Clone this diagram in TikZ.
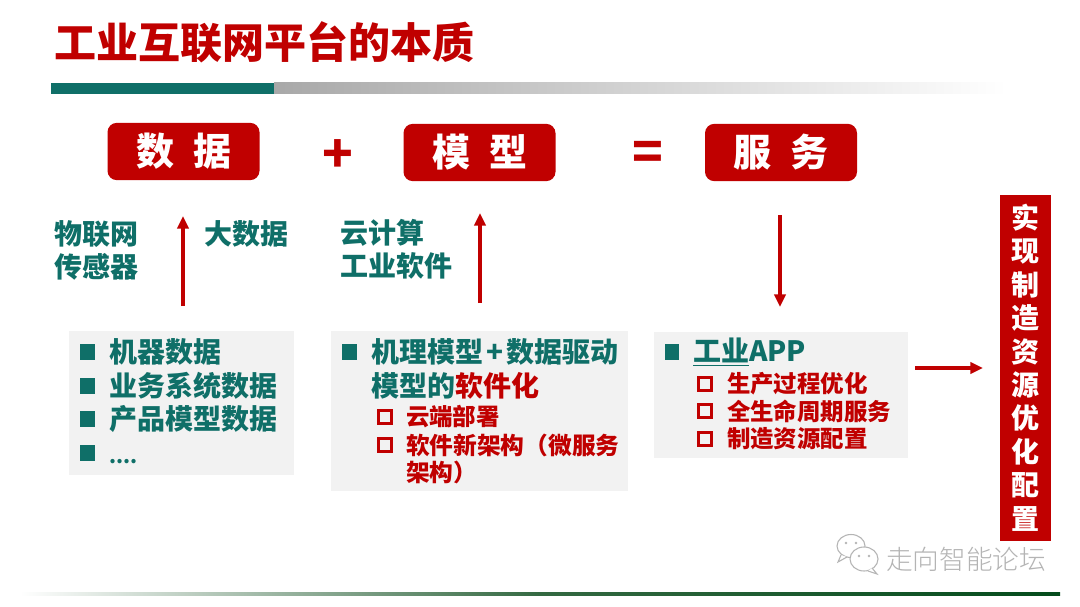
\documentclass[tikz,border=0pt]{standalone}
\usepackage{fontspec}
\setmainfont{Noto Sans CJK SC}
\newfontfamily\heavyfont{Noto Sans CJK SC Black}
\newfontfamily\wmfont{Noto Sans CJK SC Light}
\usetikzlibrary{arrows.meta}
\definecolor{myred}{HTML}{C00000}
\definecolor{myteal}{HTML}{0F6F68}
\definecolor{panelgray}{HTML}{F2F2F2}
\definecolor{wmgray}{HTML}{B4B4B4}
\newcommand{\fs}[1]{\fontsize{#1}{#1}\selectfont\heavyfont}
\tikzset{
  x=0.75pt,y=-0.75pt,
  txt/.style={inner sep=0pt,outer sep=0pt,anchor=west,align=left},
  titletxt/.style={txt,text=myred,font=\fs{31.5}},
  redbox/.style={fill=myred,rounded corners=7pt,inner sep=0pt,outer sep=0pt,minimum width=114pt,minimum height=43pt,text=white,font=\fs{28.5}},
  opsym/.style={inner sep=0pt,text=myred,font=\fs{38}},
  side/.style={txt,text=myteal,font={\fontsize{21}{24.75}\selectfont\heavyfont}},
  panel/.style={fill=panelgray,inner sep=0pt,outer sep=0pt,anchor=north west},
  lone/.style={txt,text=myteal,font={\fontsize{21}{25.2}\selectfont\heavyfont}},
  ltwo/.style={txt,text=myred,font={\fontsize{17.6}{20.6}\selectfont\heavyfont}},
  solidbul/.style={fill=myteal,inner sep=0pt,outer sep=0pt,minimum width=11pt,minimum height=12pt},
  hollowbul/.style={draw=myred,line width=2.6pt,inner sep=0pt,minimum width=9.5pt,minimum height=9.5pt},
  arr/.style={draw=myred,line width=2.5pt,-{Triangle[length=9.5pt,width=8.5pt]}},
  barbox/.style={fill=myred,inner sep=0pt,outer sep=0pt,anchor=north west,minimum width=38.25pt,minimum height=259.5pt},
  bartxt/.style={inner sep=0pt,text=white,font=\fs{21}},
  wm/.style={txt,text=wmgray,font={\fontsize{20}{20}\selectfont\wmfont}},
  wmline/.style={draw=wmgray,line width=0.8pt,fill=white}
}
\begin{document}
\begin{tikzpicture}
\useasboundingbox (0,0) rectangle (1080,606);
\fill[white] (0,0) rectangle (1080,606);
% title and rules
\node[titletxt] (title) at (54,42) {工业互联网平台的本质};
\fill[myteal] (51,83) rectangle (274,94);
\shade[left color=black!34,right color=white] (274,83) rectangle (1007,94);
\shade[left color=white,right color=white!55!myteal!70!green!50!black] (20,592) rectangle (540,595);
\shade[left color=white!55!myteal!70!green!50!black,right color=myteal!60!green!45!black] (540,592) rectangle (1060,595);
% top row
\node[redbox] (data) at (183.5,151.5) {\raisebox{-1pt}{数\hspace{.5em}据}};
\node[redbox] (model) at (479.5,152.5) {\raisebox{-1pt}{模\hspace{.5em}型}};
\node[redbox] (service) at (781,152.5) {\raisebox{-1pt}{服\hspace{.5em}务}};
\node[opsym] (plus) at (338,156) {+};
\node[opsym] (equal) at (648,156) {=};
% side labels
\node[side] (iot) at (54,250.5) {物联网\\传感器};
\node[side] (bigdata) at (204,234) {大数据};
\node[side] (cloud) at (340,249.5) {云计算\\工业软件};
% panels
\node[panel,minimum width=168.75pt,minimum height=108pt] (p1) at (69,331) {};
\node[panel,minimum width=222.75pt,minimum height=120pt] (p2) at (331,331) {};
\node[panel,minimum width=190.5pt,minimum height=94.5pt] (p3) at (654,332) {};
% panel 1
\node[solidbul] (b11) at (87.5,352) {};
\node[solidbul] (b12) at (87.5,386) {};
\node[solidbul] (b13) at (87.5,419) {};
\node[solidbul] (b14) at (87.5,453) {};
\node[lone] (t11) at (109,352) {机器数据};
\node[lone] (t12) at (109,386) {业务系统数据};
\node[lone] (t13) at (109,419) {产品模型数据};
\node[lone,font={\fontsize{15}{15}\selectfont\heavyfont}] (t14) at (109,462) {....};
% panel 2
\node[solidbul] (b21) at (349.5,352) {};
\node[lone] (t21) at (371,369) {机理模型\hspace{.12em}+\hspace{.12em}数据驱动\\模型的\textcolor{myred}{软件化}};
\node[hollowbul] (b22) at (385,417) {};
\node[hollowbul] (b23) at (385,445) {};
\node[ltwo] (t22) at (406,417) {云端部署};
\node[ltwo,font={\fontsize{17.8}{20.6}\selectfont\heavyfont}] (t23) at (406,459) {软件新架构（微服务\\架构）};
% panel 3
\node[solidbul] (b31) at (672,352) {};
\node[lone] (t31) at (693,352) {\underline{工业}APP};
\node[hollowbul] (b32) at (705,384) {};
\node[hollowbul] (b33) at (705,411) {};
\node[hollowbul] (b34) at (705,439) {};
\node[ltwo] (t32) at (727,384) {生产过程优化};
\node[ltwo] (t33) at (727,411) {全生命周期服务};
\node[ltwo] (t34) at (727,439) {制造资源配置};
% right bar
\node[barbox] (bar) at (1000,195) {};
\foreach \ch [count=\i from 0] in {实,现,制,造,资,源,优,化,配,置}
  \node[bartxt] (c\i) at (1025.5,{218+33.4*\i}) {\ch};
% arrows
\coordinate (a1s) at (183,306); \coordinate (a1e) at (183,216);
\coordinate (a2s) at (480,303); \coordinate (a2e) at (480,213);
\coordinate (a3s) at (780,215); \coordinate (a3e) at (780,307);
\coordinate (a4s) at (915,368); \coordinate (a4e) at (983,368);
\draw[arr] (a1s) -- (a1e);
\draw[arr] (a2s) -- (a2e);
\draw[arr] (a3s) -- (a3e);
\draw[arr] (a4s) -- (a4e);
% watermark
\node[wm] (wmt) at (886,559) {走向智能论坛};
\draw[wmline] (851,546) ellipse (14 and 11.5);
\draw[wmline] (841,555) -- (838,562) -- (847,557);
\draw[wmline] (864,559) ellipse (14 and 12);
\draw[wmline] (872,568) -- (877,574) -- (868,571);
\fill[wmgray] (846,543) circle (1.3) (856,543) circle (1.3) (859,556) circle (1.3) (869,556) circle (1.3);
\end{tikzpicture}
\end{document}
